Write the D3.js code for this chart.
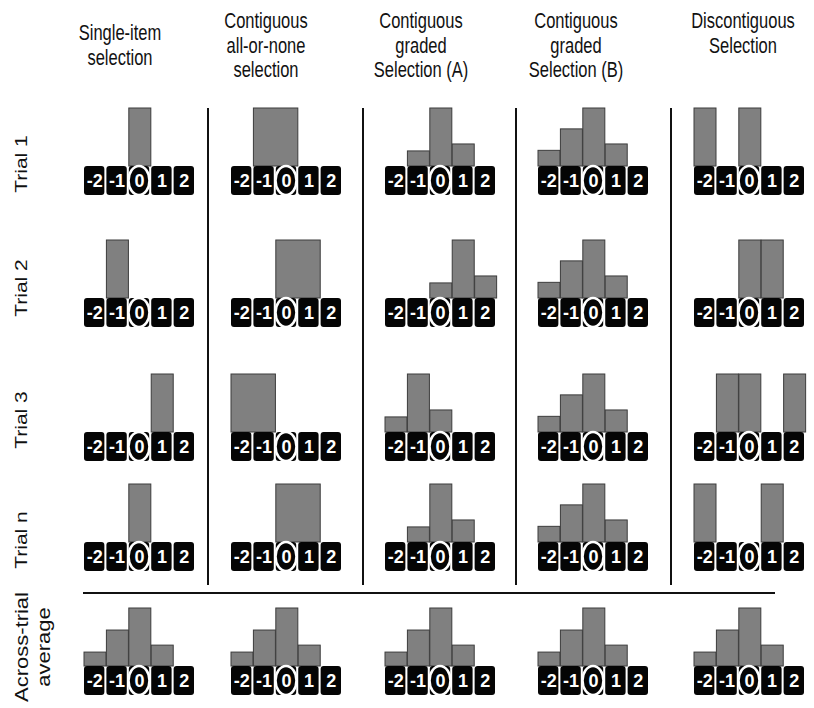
<!DOCTYPE html>
<html>
<head>
<meta charset="utf-8">
<script src="https://cdn.jsdelivr.net/npm/d3@7/dist/d3.min.js"></script>
<style>
  html, body { margin: 0; padding: 0; background: #fff; }
  svg { display: block; font-family: "Liberation Sans", Arial, Helvetica, sans-serif; }
</style>
</head>
<body>
<svg id="chart" width="814" height="708"></svg>
<script>
// ---------------- DATA ----------------
const positions = [-2, -1, 0, 1, 2];
const columnTitles = [
  ["Single-item", "selection"],
  ["Contiguous", "all-or-none", "selection"],
  ["Contiguous", "graded", "Selection (A)"],
  ["Contiguous", "graded", "Selection (B)"],
  ["Discontiguous", "Selection"]
];
const rowLabels = ["Trial 1", "Trial 2", "Trial 3", "Trial n"];
const averageLabel = ["Across-trial", "average"];

// selection weights per trial, by position -2..2
const singleItem    = [[0,0,1,0,0],[0,1,0,0,0],[0,0,0,1,0],[0,0,1,0,0]];
const allOrNone     = [[0,1,1,0,0],[0,0,1,1,0],[1,1,0,0,0],[0,0,1,1,0]];
const gradedA       = [[0,0.26,1,0.38,0],[0,0,0.26,1,0.38],[0.26,1,0.38,0,0],[0,0.26,1,0.38,0]];
const gradedB       = [[0.27,0.64,1,0.38,0],[0.27,0.64,1,0.38,0],[0.27,0.64,1,0.38,0],[0.27,0.64,1,0.38,0]];
const discontiguous = [[1,0,1,0,0],[0,0,1,1,0],[0,1,1,0,1],[1,0,0,1,0]];
const acrossTrialAverage = [0.24, 0.62, 1, 0.36, 0];

const columnData = [singleItem, allOrNone, gradedA, gradedB, discontiguous];
const columnMerged = [false, true, false, false, false];

// ---------------- LAYOUT ----------------
const W = 814, H = 708;
const colX = [84, 231, 385, 538, 694];        // left edge of each panel's number strip
const rowY = [166, 298, 432, 542, 666];       // top edge of each number strip
const step = 22, boxW = 20, boxH = 29, barMax = 58;
const headerX = [120, 266, 421, 576, 743];
const sepX = [208, 363, 516, 671];

const svg = d3.select("#chart");
svg.append("rect").attr("width", W).attr("height", H).attr("fill", "#fff");

const x = d3.scaleBand().domain(positions).range([0, step * positions.length]).paddingInner((step - boxW) / step).paddingOuter(0);
const y = d3.scaleLinear().domain([0, 1]).range([0, -barMax]);

function drawPanel(g, values, merged) {
  const bars = [];
  if (merged) {
    let i = 0;
    while (i < values.length) {
      if (values[i] > 0) {
        let j = i;
        while (j + 1 < values.length && values[j + 1] === values[i]) j++;
        bars.push({ start: positions[i], end: positions[j], v: values[i] });
        i = j + 1;
      } else i++;
    }
  } else {
    values.forEach((v, i) => { if (v > 0) bars.push({ start: positions[i], end: positions[i], v }); });
  }
  g.selectAll("rect.bar").data(bars).join("rect")
    .attr("class", "bar")
    .attr("x", d => x(d.start))
    .attr("y", d => y(d.v))
    .attr("width", d => x(d.end) - x(d.start) + step)
    .attr("height", d => -y(d.v))
    .attr("fill", "#808080")
    .attr("stroke", "#3c3c3c")
    .attr("stroke-width", 1);

  const boxes = g.selectAll("g.box").data(positions).join("g")
    .attr("class", "box")
    .attr("transform", d => `translate(${x(d)},0)`);
  boxes.append("rect")
    .attr("width", x.bandwidth()).attr("height", boxH)
    .attr("rx", 3).attr("ry", 3)
    .attr("fill", "#050505");
  boxes.filter(d => d === 0).append("ellipse")
    .attr("cx", x.bandwidth() / 2).attr("cy", boxH / 2)
    .attr("rx", 10.5).attr("ry", 14.5)
    .attr("fill", "none").attr("stroke", "#fff").attr("stroke-width", 2.6);
  boxes.append("text")
    .attr("transform", `translate(${x.bandwidth() / 2 + 0.5},${boxH / 2 + 6.8}) scale(0.95,1)`)
    .attr("text-anchor", "middle")
    .attr("font-size", 19).attr("font-weight", "bold")
    .attr("fill", "#fff")
    .text(d => d);
}

columnData.forEach((rows, c) => {
  rows.forEach((vals, r) => {
    const g = svg.append("g").attr("transform", `translate(${colX[c]},${rowY[r]})`);
    drawPanel(g, vals, columnMerged[c]);
  });
  const ga = svg.append("g").attr("transform", `translate(${colX[c]},${rowY[4]})`);
  drawPanel(ga, acrossTrialAverage, false);
});

// headers
const headerTop = [40, 28, 28, 28, 28];
columnTitles.forEach((lines, c) => {
  lines.forEach((t, k) => {
    svg.append("text")
      .attr("transform", `translate(${headerX[c]},${headerTop[c] + k * 24.5}) scale(0.75,1)`)
      .attr("text-anchor", "middle")
      .attr("font-size", 22)
      .attr("fill", "#111")
      .text(t);
  });
});

// row labels
const rowLabelY = [164, 288, 420, 540];
rowLabels.forEach((t, r) => {
  svg.append("text")
    .attr("transform", `translate(27,${rowLabelY[r]}) rotate(-90) scale(1,0.8)`)
    .attr("text-anchor", "middle")
    .attr("font-size", 21)
    .attr("fill", "#111")
    .text(t);
});
averageLabel.forEach((t, k) => {
  svg.append("text")
    .attr("transform", `translate(${28 + k * 22},647) rotate(-90) scale(1,0.8)`)
    .attr("text-anchor", "middle")
    .attr("font-size", 22)
    .attr("fill", "#111")
    .text(t);
});

// separators
svg.selectAll("line.sep").data(sepX).join("line")
  .attr("class", "sep")
  .attr("x1", d => d).attr("x2", d => d)
  .attr("y1", 108).attr("y2", 585)
  .attr("stroke", "#111").attr("stroke-width", 2);
svg.append("line")
  .attr("x1", 83).attr("x2", 775).attr("y1", 593).attr("y2", 593)
  .attr("stroke", "#111").attr("stroke-width", 2);
</script>
</body>
</html>
